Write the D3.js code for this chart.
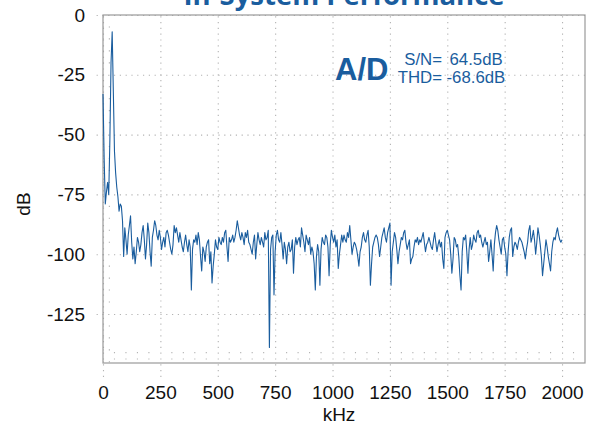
<!DOCTYPE html>
<html>
<head>
<meta charset="utf-8">
<script src="https://cdn.jsdelivr.net/npm/d3@7"></script>
<style>
  body { margin: 0; background: #fff; }
  text { font-family: "Liberation Sans", Arial, sans-serif; }
</style>
</head>
<body>
<div id="plot"></div>
<script>
// tick labels
const xTicks = [0, 250, 500, 750, 1000, 1250, 1500, 1750, 2000];
const yTicks = [0, -25, -50, -75, -100, -125];

// spectrum, one value every 5 kHz from 0 to 2000 kHz (dB)
const stepKHz = 5;
const spectrum = [
  -33,-60,-79,-74,-70,-75,-52,-20,-7,-32,-57,-66,-72,-76,-82,-79,-80,-86,-101,-89,
  -94,-100,-92,-88,-84,-95,-102,-97,-104,-99,-93,-95,-99,-96,-91,-88,-94,-102,-96,-87,
  -91,-99,-105,-93,-90,-86,-88,-92,-94,-90,-93,-98,-95,-93,-97,-91,-90,-92,-95,-98,
  -100,-96,-88,-91,-89,-92,-95,-91,-94,-97,-99,-95,-92,-96,-99,-94,-97,-115,-98,-94,
  -95,-92,-96,-91,-94,-101,-107,-97,-99,-103,-97,-95,-94,-104,-99,-112,-105,-100,-94,-97,
  -98,-93,-95,-96,-93,-95,-91,-90,-97,-103,-93,-95,-94,-92,-95,-93,-90,-86,-89,-92,
  -94,-91,-93,-96,-91,-93,-90,-95,-96,-98,-100,-95,-92,-102,-96,-91,-94,-96,-93,-95,
  -97,-91,-94,-93,-90,-139,-98,-93,-92,-117,-99,-92,-90,-94,-95,-91,-96,-102,-95,-98,
  -104,-97,-95,-99,-98,-94,-108,-97,-93,-96,-94,-93,-97,-89,-92,-95,-99,-92,-94,-96,
  -93,-100,-97,-99,-104,-115,-101,-96,-99,-113,-98,-93,-95,-96,-92,-93,-97,-109,-96,-90,
  -93,-95,-92,-97,-94,-106,-100,-96,-92,-95,-92,-94,-95,-91,-93,-88,-94,-100,-97,-95,
  -96,-98,-101,-105,-99,-97,-93,-91,-94,-95,-92,-90,-97,-113,-104,-97,-95,-93,-92,-93,
  -96,-101,-97,-93,-91,-89,-93,-95,-91,-89,-87,-113,-99,-95,-91,-93,-98,-104,-99,-96,
  -93,-94,-91,-90,-95,-98,-96,-94,-104,-102,-101,-97,-94,-95,-93,-96,-94,-95,-93,-91,
  -95,-99,-96,-95,-93,-95,-97,-98,-94,-91,-95,-99,-96,-94,-97,-95,-102,-106,-93,-91,
  -90,-92,-94,-100,-108,-102,-93,-94,-97,-96,-101,-109,-115,-99,-93,-94,-92,-99,-108,-98,
  -93,-98,-96,-92,-94,-95,-91,-90,-93,-92,-95,-97,-95,-93,-96,-95,-103,-99,-94,-100,
  -107,-96,-91,-88,-90,-94,-97,-100,-94,-93,-97,-100,-109,-99,-93,-90,-89,-101,-97,-95,
  -96,-98,-95,-93,-94,-95,-97,-99,-102,-98,-95,-90,-88,-95,-93,-90,-94,-100,-95,-89,
  -92,-96,-101,-109,-104,-99,-94,-97,-101,-104,-107,-99,-95,-93,-94,-91,-89,-92,-94,-95,
  -94
];

// annotation
const badge = "A/D";
const statLabels = ["S/N=", "THD="];
const statValues = ["64.5dB", "-68.6dB"];

const W = 592, H = 424;
const frame = { left: 103, top: 15, right: 585, bottom: 363 };
const blue = "#1a5d9e";
const gridColor = "#b3b3b3";

const svg = d3.select("#plot")
  .append("svg")
    .attr("width", W)
    .attr("height", H);

const x = d3.scaleLinear().domain([0, 2100]).range([frame.left, frame.right]);
const y = d3.scaleLinear().domain([-145.5, 0]).range([frame.bottom, frame.top]);

// grid (dotted, running past the frame like tick marks)
const xGrid = svg.append("g")
  .attr("transform", `translate(0,${frame.bottom + 14})`)
  .call(d3.axisBottom(x).tickValues(xTicks).tickSize(-(frame.bottom + 14 - frame.top)).tickFormat(""));
const yGrid = svg.append("g")
  .attr("transform", `translate(${frame.right},0)`)
  .call(d3.axisLeft(y).tickValues(yTicks).tickSize(frame.right - 96).tickFormat(""));
[xGrid, yGrid].forEach(g => {
  g.select(".domain").remove();
  g.selectAll("line")
    .attr("stroke", gridColor)
    .attr("stroke-width", 1.1)
    .attr("stroke-dasharray", "1.2,4.6");
});

// minor ticks (dotted, inside the frame)
svg.append("g").selectAll("line")
  .data(d3.range(-145, 0, 5).filter(v => v % 25 !== 0))
  .join("line")
    .attr("x1", frame.left + 7).attr("x2", frame.left)
    .attr("y1", d => y(d)).attr("y2", d => y(d))
    .attr("stroke", gridColor).attr("stroke-width", 1.1)
    .attr("stroke-dasharray", "1.2,5.2");
svg.append("g").selectAll("line")
  .data(d3.range(50, 2100, 50).filter(v => v % 250 !== 0))
  .join("line")
    .attr("x1", d => x(d)).attr("x2", d => x(d))
    .attr("y1", frame.bottom - 11).attr("y2", frame.bottom - 2)
    .attr("stroke", gridColor).attr("stroke-width", 1.1)
    .attr("stroke-dasharray", "1.2,5.2");

// frame
svg.append("rect")
  .attr("x", frame.left).attr("y", frame.top)
  .attr("width", frame.right - frame.left).attr("height", frame.bottom - frame.top)
  .attr("fill", "none")
  .attr("stroke", "#999")
  .attr("stroke-width", 1.2);

// tick labels (plain hyphen, as in the original)
const xAxis = svg.append("g")
  .attr("transform", `translate(0,${frame.bottom})`)
  .call(d3.axisBottom(x).tickValues(xTicks).tickSize(0).tickPadding(23).tickFormat(d => String(d)));
const yAxis = svg.append("g")
  .attr("transform", `translate(${frame.left},0)`)
  .call(d3.axisLeft(y).tickValues(yTicks).tickSize(0).tickPadding(18).tickFormat(d => String(d)));
[xAxis, yAxis].forEach(g => {
  g.select(".domain").remove();
  g.selectAll("text")
    .style("font-family", "'Liberation Sans', Arial, sans-serif")
    .style("font-size", "19px")
    .attr("fill", "#111");
});

// axis titles
svg.append("text")
  .attr("x", 339).attr("y", 421)
  .attr("text-anchor", "middle")
  .style("font-size", "19px")
  .attr("fill", "#111")
  .text("kHz");
svg.append("text")
  .attr("transform", "translate(30,204) rotate(-90)")
  .attr("text-anchor", "middle")
  .style("font-size", "19px")
  .attr("fill", "#111")
  .text("dB");

// spectrum trace
const line = d3.line()
  .x((d, i) => x(i * stepKHz))
  .y(d => y(d));
svg.append("path")
  .datum(spectrum)
  .attr("fill", "none")
  .attr("stroke", blue)
  .attr("stroke-width", 1.1)
  .attr("stroke-linejoin", "round")
  .attr("d", line);

// title (cut off by the top edge)
svg.append("text")
  .attr("x", 344).attr("y", 5)
  .attr("text-anchor", "middle")
  .style("font-family", "'Open Sans', sans-serif")
  .style("font-weight", "bold")
  .style("font-size", "27.5px")
  .attr("fill", blue)
  .text("In-System Performance");

// annotation
svg.append("text")
  .attr("x", 335).attr("y", 79.5)
  .style("font-weight", "bold")
  .style("font-size", "31px")
  .attr("fill", blue)
  .text(badge);
svg.append("g").selectAll("text")
  .data(statLabels)
  .join("text")
    .attr("x", 442).attr("y", (d, i) => i === 0 ? 64.5 : 82.5)
    .attr("text-anchor", "end")
    .style("font-size", "16.8px")
    .attr("fill", blue)
    .text(d => d);
svg.append("g").selectAll("text")
  .data(statValues)
  .join("text")
    .attr("x", (d, i) => i === 0 ? 449.5 : 446.5).attr("y", (d, i) => i === 0 ? 64.5 : 82.5)
    .style("font-size", "16.8px")
    .attr("fill", blue)
    .text(d => d);
</script>
</body>
</html>
